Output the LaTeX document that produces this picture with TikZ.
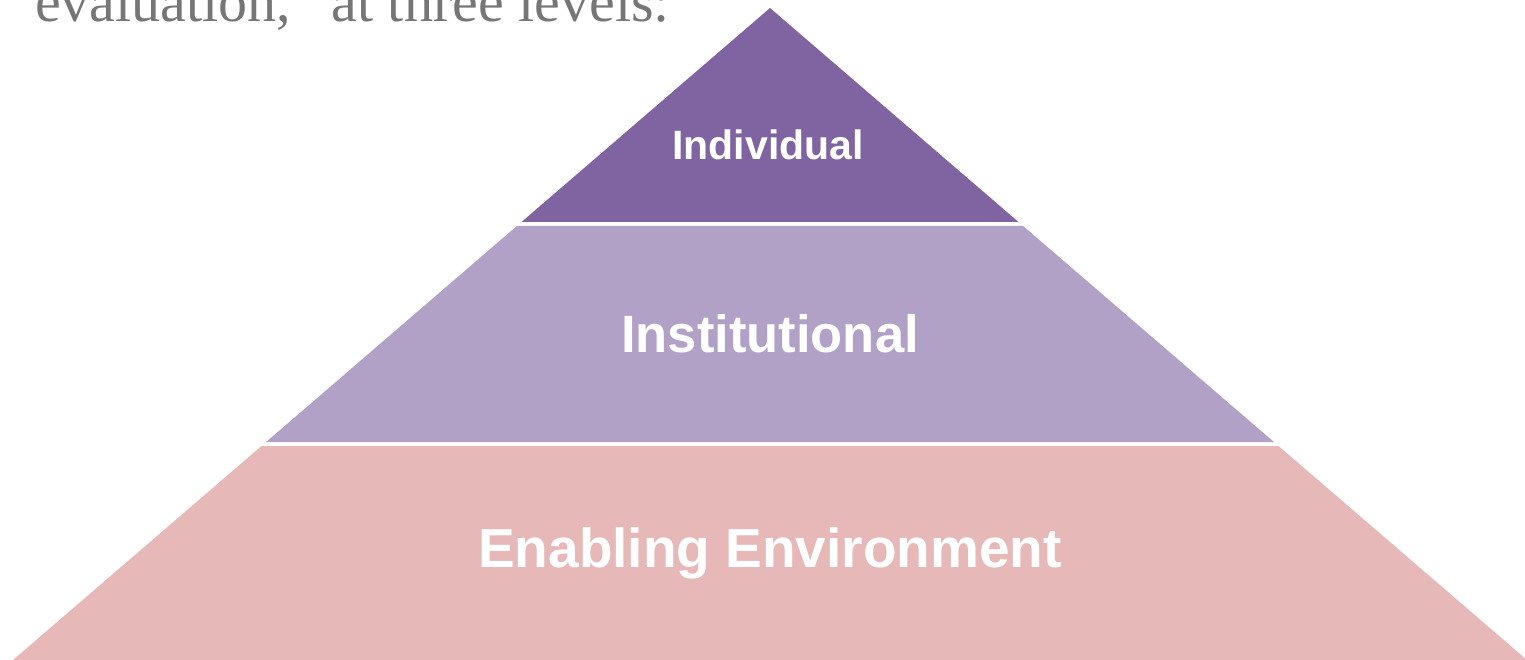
\documentclass[tikz,border=0pt]{standalone}
\usepackage{fontspec}
\setmainfont{Liberation Serif}
\newfontfamily\tiersans{Liberation Sans}
\usepackage{tikz}

\definecolor{tiertop}{HTML}{8064A2}
\definecolor{tiermid}{HTML}{B2A1C7}
\definecolor{tierlow}{HTML}{E6B8B7}
\definecolor{leadgrey}{HTML}{767676}

\tikzset{
  tierlabel/.style={anchor=base, inner sep=0pt, text=white, font=\tiersans\bfseries},
}

\begin{document}
\begin{tikzpicture}[x=1pt, y=-1pt]
          \useasboundingbox (0,0) rectangle (1525,660);
          \clip (0,0) rectangle (1525,660);
          % the three tiers of the pyramid
          \fill[tiertop] (770,8) -- (1018.5,222) -- (521.5,222) -- cycle;
          \fill[tiermid] (516.9,226) -- (1023.1,226) -- (1273.9,442) -- (266.1,442) -- cycle;
          \fill[tierlow] (261.5,446) -- (1278.5,446) -- (1527,660) -- (13,660) -- cycle;
          % tier names
          \node[tierlabel, font=\tiersans\bfseries\fontsize{41}{48}\selectfont] (indiv) at (768,160) {Individual};
          \node[tierlabel, font=\tiersans\bfseries\fontsize{52.5}{60}\selectfont] (instit) at (770,352) {Institutional};
          \node[tierlabel, font=\tiersans\bfseries\fontsize{55}{62}\selectfont] (enabl) at (770,567) {Enabling Environment};
          % leftover line of the running text above
          \node[anchor=base west, inner sep=0pt, text=leadgrey, font=\fontsize{58}{66}\selectfont] (lead) at (35,22) {evaluation,\textquotedblright\ at three levels:};
        \end{tikzpicture}
\end{document}
